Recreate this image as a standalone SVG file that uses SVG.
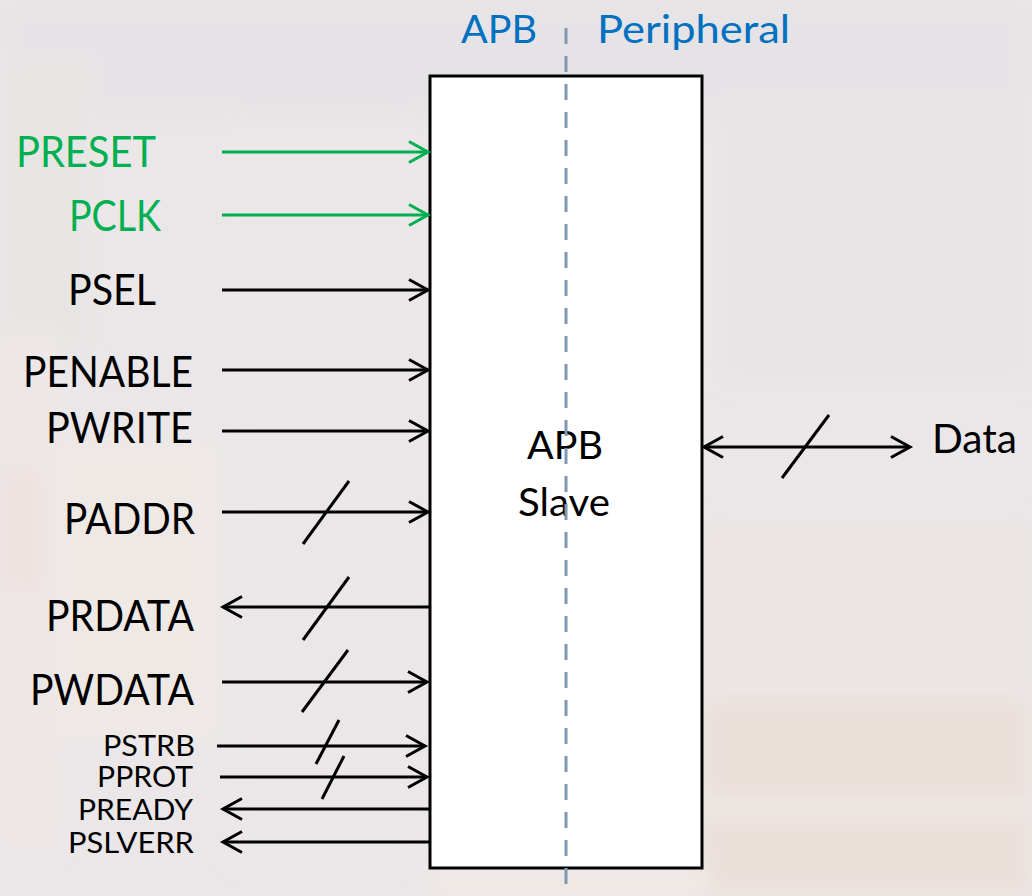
<svg xmlns="http://www.w3.org/2000/svg" width="1032" height="896" viewBox="0 0 1032 896">
  <defs>
    <style>
      .lbl { font-family: Lato, "Open Sans", "Liberation Sans", sans-serif; fill: #000; }
      .big { font-size: 42px; }
      .small { font-size: 28px; }
      .green { fill: #00b050; }
      .blue { fill: #0070c0; font-size: 38px; }
      .wire { stroke: #000; stroke-width: 3; fill: none; marker-end: url(#arrowK); }
      .gwire { stroke: #00b050; stroke-width: 3; fill: none; marker-end: url(#arrowG); }
      .bus { stroke: #000; stroke-width: 3; stroke-linecap: butt; }
    </style>
    <marker id="arrowK" markerUnits="userSpaceOnUse" viewBox="-26 -15 30 30" markerWidth="30" markerHeight="30" refX="0" refY="0" orient="auto-start-reverse">
      <path d="M -19 -10.5 L 0 0 L -19 10.5" fill="none" stroke="#000" stroke-width="3"/>
    </marker>
    <marker id="arrowG" markerUnits="userSpaceOnUse" viewBox="-26 -15 30 30" markerWidth="30" markerHeight="30" refX="0" refY="0" orient="auto-start-reverse">
      <path d="M -19 -10.5 L 0 0 L -19 10.5" fill="none" stroke="#00b050" stroke-width="3"/>
    </marker>
    <filter id="soft" x="-20%" y="-20%" width="140%" height="140%">
      <feGaussianBlur stdDeviation="10"/>
    </filter>
  </defs>

  <!-- faded background -->
  <g id="background">
    <rect x="0" y="0" width="1032" height="896" fill="#ebe7e8"/>
    <g filter="url(#soft)" opacity="0.6">
      <rect x="0" y="0" width="1032" height="120" fill="#e4e2e5"/>
      <rect x="0" y="60" width="90" height="300" fill="#e5e5e2"/>
      <rect x="0" y="330" width="60" height="520" fill="#f1e7e7"/>
      <rect x="60" y="440" width="160" height="300" fill="#f2ebe6"/>
      <rect x="0" y="470" width="40" height="120" fill="#f0e0da"/>
      <rect x="720" y="100" width="312" height="280" fill="#e7e3e5"/>
      <rect x="700" y="520" width="332" height="180" fill="#ede5e3"/>
      <rect x="700" y="700" width="332" height="196" fill="#eadcd2"/>
      <rect x="430" y="868" width="280" height="28" fill="#f3ebe3"/>
      <rect x="230" y="120" width="190" height="740" fill="#ebe8e8"/>
      <rect x="700" y="800" width="332" height="14" fill="#f3ede8"/>
    </g>
  </g>

  <!-- APB Slave block -->
  <g id="apb-slave">
    <rect x="430" y="76" width="272" height="792" fill="#ffffff" stroke="#000" stroke-width="3"/>
    <text class="lbl" x="565" y="459" font-size="38" text-anchor="middle" textLength="76" lengthAdjust="spacingAndGlyphs">APB</text>
    <text class="lbl" x="564" y="516" font-size="38" text-anchor="middle" textLength="92" lengthAdjust="spacingAndGlyphs">Slave</text>
  </g>

  <!-- APB / Peripheral divider -->
  <g id="divider">
    <line x1="566" y1="28" x2="566" y2="884" stroke="#8097b1" stroke-width="3" stroke-dasharray="16 12"/>
    <text class="lbl blue" x="537" y="43" text-anchor="end" textLength="76" lengthAdjust="spacingAndGlyphs">APB</text>
    <text class="lbl blue" x="597" y="43" textLength="193" lengthAdjust="spacingAndGlyphs">Peripheral</text>
  </g>

  <!-- signal labels -->
  <g id="sig-preset"><text class="lbl big green" x="156" y="167" text-anchor="end" textLength="140" lengthAdjust="spacingAndGlyphs">PRESET</text></g>
  <g id="sig-pclk"><text class="lbl big green" x="161" y="231" text-anchor="end" textLength="92" lengthAdjust="spacingAndGlyphs">PCLK</text></g>
  <g id="sig-psel"><text class="lbl big" x="156" y="305" text-anchor="end" textLength="88" lengthAdjust="spacingAndGlyphs">PSEL</text></g>
  <g id="sig-penable"><text class="lbl big" x="193" y="387" text-anchor="end" textLength="170" lengthAdjust="spacingAndGlyphs">PENABLE</text></g>
  <g id="sig-pwrite"><text class="lbl big" x="193" y="443" text-anchor="end" textLength="147" lengthAdjust="spacingAndGlyphs">PWRITE</text></g>
  <g id="sig-paddr"><text class="lbl big" x="195" y="534" text-anchor="end" textLength="131" lengthAdjust="spacingAndGlyphs">PADDR</text></g>
  <g id="sig-prdata"><text class="lbl big" x="194" y="631" text-anchor="end" textLength="148" lengthAdjust="spacingAndGlyphs">PRDATA</text></g>
  <g id="sig-pwdata"><text class="lbl big" x="194" y="705" text-anchor="end" textLength="164" lengthAdjust="spacingAndGlyphs">PWDATA</text></g>
  <g id="sig-pstrb"><text class="lbl small" x="195" y="756" text-anchor="end" textLength="92" lengthAdjust="spacingAndGlyphs">PSTRB</text></g>
  <g id="sig-pprot"><text class="lbl small" x="193" y="787" text-anchor="end" textLength="96" lengthAdjust="spacingAndGlyphs">PPROT</text></g>
  <g id="sig-pready"><text class="lbl small" x="193" y="820" text-anchor="end" textLength="115" lengthAdjust="spacingAndGlyphs">PREADY</text></g>
  <g id="sig-pslverr"><text class="lbl small" x="194" y="853" text-anchor="end" textLength="126" lengthAdjust="spacingAndGlyphs">PSLVERR</text></g>
  <g id="sig-data"><text class="lbl" x="932" y="453" font-size="40" textLength="85" lengthAdjust="spacingAndGlyphs">Data</text></g>

  <!-- connectors -->
  <g id="connectors">
    <line class="gwire" x1="222" y1="152" x2="428" y2="152"/>
    <line class="gwire" x1="222" y1="215" x2="428" y2="215"/>
    <line class="wire" x1="222" y1="290" x2="428" y2="290"/>
    <line class="wire" x1="222" y1="370" x2="428" y2="370"/>
    <line class="wire" x1="222" y1="431" x2="428" y2="431"/>
    <line class="wire" x1="222" y1="512" x2="428" y2="512"/>
    <line class="wire" x1="430" y1="607" x2="223" y2="607"/>
    <line class="wire" x1="222" y1="682" x2="427" y2="682"/>
    <line class="wire" x1="217" y1="746" x2="425" y2="746"/>
    <line class="wire" x1="220" y1="777" x2="427" y2="777"/>
    <line class="wire" x1="430" y1="809" x2="223" y2="809"/>
    <line class="wire" x1="430" y1="842" x2="223" y2="842"/>
    <line class="wire" x1="704" y1="447" x2="910" y2="447" style="marker-start: url(#arrowK)"/>
    <!-- bus slashes -->
    <line class="bus" x1="303" y1="544" x2="349" y2="481"/>
    <line class="bus" x1="303" y1="640" x2="349" y2="577"/>
    <line class="bus" x1="302" y1="712" x2="348" y2="650"/>
    <line class="bus" x1="316" y1="764" x2="339" y2="720"/>
    <line class="bus" x1="322" y1="799" x2="344" y2="756"/>
    <line class="bus" x1="782" y1="478" x2="829" y2="415"/>
  </g>
</svg>
